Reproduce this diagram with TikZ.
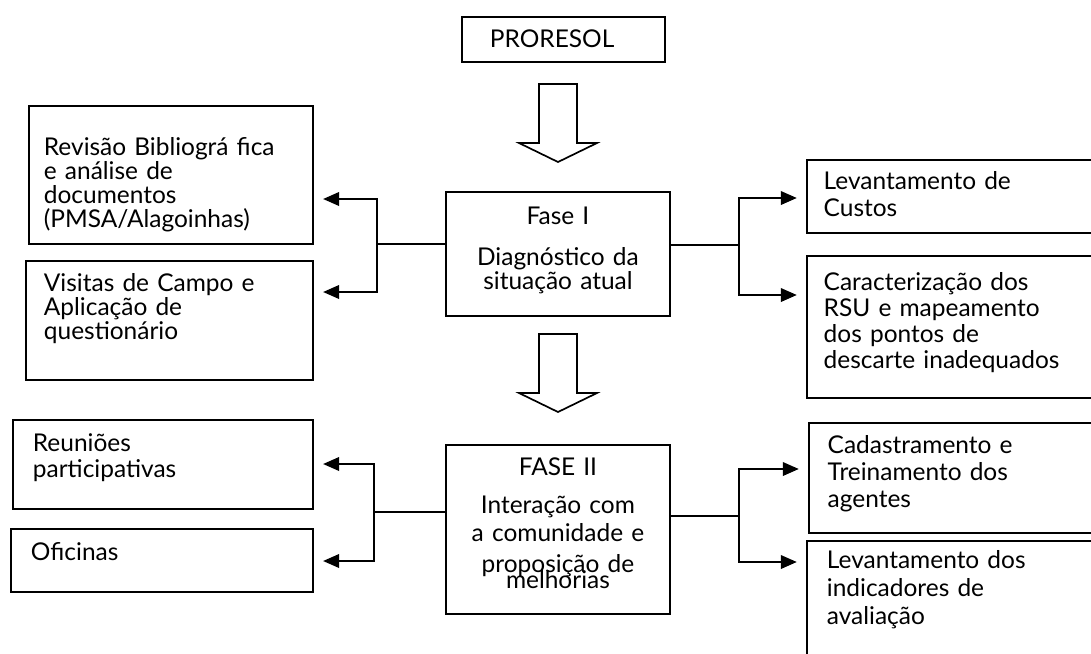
\documentclass[tikz,border=0pt]{standalone}
\usepackage{fontspec}
\setmainfont{Lato}
\usetikzlibrary{arrows.meta,positioning}
\newcommand\boxfont{\fontsize{17.4pt}{0.6cm}\selectfont\setlength{\lineskiplimit}{-20pt}}
\newcommand\padT[1]{\rule{0pt}{#1}}
\newcommand\padB[1]{\rule[-#1]{0pt}{#1}}

\begin{document}
\begin{tikzpicture}[
  x=0.025cm, y=-0.025cm,
  box/.style={draw, line width=1.3pt, anchor=north west, align=left,
    inner xsep=0.4cm, inner ysep=0pt, font=\boxfont},
  fase/.style={box, align=center, inner xsep=0.1cm, text width=5.4cm},
  link/.style={line width=1.3pt},
  arrow/.style={link, -{Triangle[length=0.4cm,width=0.34cm]}, shorten >=0.23cm},
  hollow/.style={draw, line width=1.2pt, line join=miter}
]
  \useasboundingbox (0,0) rectangle (1091,653);
  \clip (0,0) rectangle (1091,653);

  \node[box, inner xsep=0.7cm, text width=3.675cm] (proresol) at (461,16)
    {\padT{0.775cm}PRORESOL\padB{0.35cm}};

  \node[fase] (fase1) at (445,191)
    {\padT{0.825cm}Fase I\\[0.425cm]Diagnóstico da\\situação atual\padB{0.65cm}};
  \node[fase] (fase2) at (445,444)
    {\padT{0.775cm}FASE II\\[0.35cm]Interação com\\[0.1cm]a comunidade e\\[0.175cm]proposição de\\[-0.2cm]melhorias\padB{0.625cm}};

  \node[box, inner xsep=0.375cm, text width=6.35cm] (revisao) at (28,105)
    {\padT{1.25cm}Revisão Bibliográ fica\\e análise de\\documentos\\(PMSA/Alagoinhas)\padB{0.4cm}};
  \node[box, inner xsep=0.45cm, text width=6.275cm] (visitas) at (25,260)
    {\padT{0.775cm}Visitas de Campo e\\Aplicação de\\questionário\padB{1cm}};
  \node[box, inner xsep=0.5cm, text width=6.5cm] (reunioes) at (12,419)
    {\padT{0.8cm}Reuniões\\[0.05cm]participativas\padB{0.775cm}};
  \node[box, inner xsep=0.5cm, text width=6.55cm] (oficinas) at (10,528)
    {\padT{0.8cm}Oficinas\padB{0.775cm}};

  \node[box, inner xsep=0.42cm, text width=6.7cm] (custos) at (806,159)
    {\padT{0.75cm}Levantamento de\\[0.075cm]Custos\padB{0.4cm}};
  \node[box, inner xsep=0.42cm, text width=6.7cm] (rsu) at (806,255)
    {\padT{0.875cm}Caracterização dos\\[0.05cm]RSU e mapeamento\\[0.05cm]dos pontos de\\[0.05cm]descarte inadequados\padB{0.725cm}};
  \node[box, inner xsep=0.47cm, text width=6.7cm] (agentes) at (808,422)
    {\padT{0.775cm}Cadastramento e\\[0.075cm]Treinamento dos\\[0.075cm]agentes\padB{0.625cm}};
  \node[box, inner xsep=0.5cm, text width=6.7cm] (indicadores) at (806,540)
    {\padT{0.7cm}Levantamento dos\\[0.1cm]indicadores de\\[0.1cm]avaliação\padB{0.775cm}};

  \foreach \dy in {0,250}
    \draw[hollow] (539,84+\dy) -- (577,84+\dy) -- (577,143+\dy) -- (597,143+\dy)
      -- (558,162+\dy) -- (519,143+\dy) -- (539,143+\dy) -- cycle;

  \coordinate (jl1) at (377,244);
  \coordinate (jr1) at (739,245);
  \coordinate (jl2) at (374,512);
  \coordinate (jr2) at (739,516);

  \draw[link] (fase1.west |- jl1) -- (jl1);
  \draw[arrow] (jl1) |- (revisao.east |- 0,199);
  \draw[arrow] (jl1) |- (visitas.east |- 0,292);
  \draw[link] (fase1.east |- jr1) -- (jr1);
  \draw[arrow] (jr1) |- (custos.west |- 0,198);
  \draw[arrow] (jr1) |- (rsu.west |- 0,295);

  \draw[link] (fase2.west |- jl2) -- (jl2);
  \draw[arrow] (jl2) |- (reunioes.east |- 0,464);
  \draw[arrow] (jl2) |- (oficinas.east |- 0,561);
  \draw[link] (fase2.east |- jr2) -- (jr2);
  \draw[arrow] (jr2) |- (agentes.west |- 0,469);
  \draw[arrow] (jr2) |- (indicadores.west |- 0,562);
\end{tikzpicture}
\end{document}
